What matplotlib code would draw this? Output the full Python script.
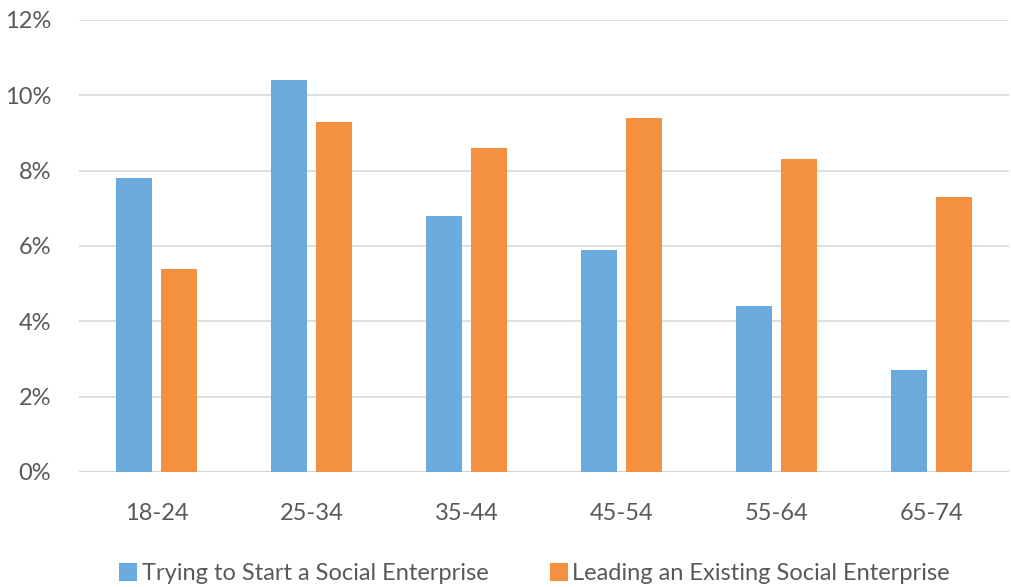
import numpy as np
import matplotlib.pyplot as plt
from matplotlib.ticker import PercentFormatter

plt.rcParams['font.family'] = ['Lato', 'DejaVu Sans']

ages = ['18-24', '25-34', '35-44', '45-54', '55-64', '65-74']
trying = [7.8, 10.4, 6.8, 5.9, 4.4, 2.7]
leading = [5.4, 9.3, 8.6, 9.4, 8.3, 7.3]

blue = '#6aaadd'
orange = '#f39140'
txt = '#595959'

fig = plt.figure(figsize=(10.12, 5.87), dpi=100)
ax = fig.add_axes([0.078, 0.196, 0.919, 0.77])

x = np.arange(len(ages))
w = 0.232
ax.bar(x - w / 2 - 0.03, trying, w, color=blue, label='Trying to Start a Social Enterprise', zorder=3)
ax.bar(x + w / 2 + 0.03, leading, w, color=orange, label='Leading an Existing Social Enterprise', zorder=3)

ax.set_xlim(-0.5, 5.5)
ax.set_ylim(0, 12)
ax.set_yticks(np.arange(0, 13, 2))
ax.yaxis.set_major_formatter(PercentFormatter(decimals=0))
ax.set_xticks(x)
ax.set_xticklabels(ages)
ax.grid(axis='y', color='#d9d9d9', linewidth=1.2, zorder=0)
for s in ax.spines.values():
    s.set_visible(False)
ax.axhline(0, color='#d0d0d0', linewidth=1.2, zorder=2)
ax.tick_params(length=0, labelsize=17, labelcolor=txt)
ax.tick_params(axis='x', pad=22)
ax.tick_params(axis='y', pad=20)

ax.legend(loc='upper center', bbox_to_anchor=(0.49, -0.155), ncol=2, frameon=False,
          fontsize=17, labelcolor=txt, handlelength=0.75, handleheight=0.75,
          handletextpad=0.2, columnspacing=2.6)

fig.savefig('out.png', dpi=100)
